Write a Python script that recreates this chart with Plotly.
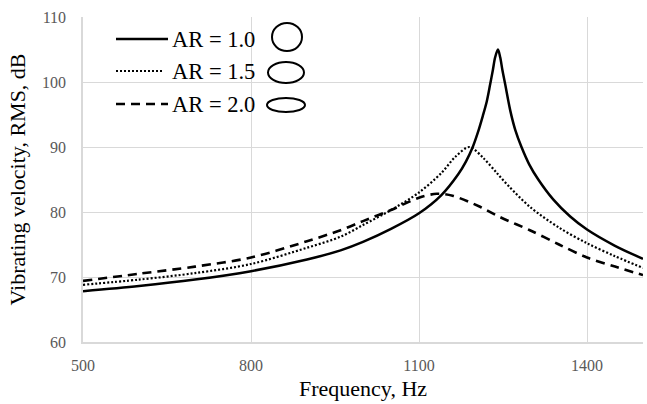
import plotly.graph_objects as go

# ---- data ----
freq_ar10 = [500, 600, 700, 800, 900, 960, 1000, 1050, 1100, 1140, 1170, 1184,
             1196, 1205, 1214, 1221, 1227, 1232, 1236, 1241, 1245, 1249, 1254,
             1263, 1272, 1283, 1297, 1313, 1340, 1370, 1400, 1450, 1500]
vel_ar10 = [67.8, 68.6, 69.6, 70.9, 72.7, 74.1, 75.4, 77.4, 79.8, 82.6, 85.8, 87.8,
            90.0, 92.2, 94.8, 97.0, 99.6, 101.9, 103.8, 105.0, 103.8, 101.8, 99.6,
            95.6, 92.6, 90.0, 87.3, 85.0, 81.9, 79.3, 77.3, 74.8, 72.8]

freq_ar15 = [500, 600, 700, 800, 900, 960, 1000, 1050, 1100, 1140, 1165, 1190,
             1215, 1239, 1260, 1298, 1350, 1400, 1450, 1500]
vel_ar15 = [68.8, 69.6, 70.6, 72.0, 74.5, 76.2, 78.0, 80.3, 83.0, 86.0, 88.5, 90.0,
            88.3, 86.0, 84.0, 80.8, 77.6, 75.2, 73.2, 71.4]

freq_ar20 = [500, 600, 700, 800, 900, 960, 1000, 1050, 1100, 1132, 1160, 1209,
             1245, 1298, 1350, 1400, 1450, 1500]
vel_ar20 = [69.4, 70.5, 71.6, 73.0, 75.5, 77.2, 78.6, 80.3, 82.2, 82.8, 82.5, 80.8,
            79.2, 77.2, 75.0, 73.0, 71.6, 70.3]

series_names = ["AR = 1.0", "AR = 1.5", "AR = 2.0"]
x_ticks = [500, 800, 1100, 1400]
y_ticks = [60, 70, 80, 90, 100, 110]

# ---- layout geometry ----
W, H = 647, 404
ML, MR, MT, MB = 83, 4, 17, 62
PW, PH = W - ML - MR, H - MT - MB


def px(x):
    return (x - ML) / PW


def py(y):
    return (H - MB - y) / PH


FONT = "Liberation Serif, Times New Roman, serif"
styles = [
    dict(color="black", width=2.5, dash="solid"),
    dict(color="black", width=2.2, dash="2px,2px"),
    dict(color="black", width=2.6, dash="9px,6px"),
]

fig = go.Figure()
for (fx, vy), name, st in zip([(freq_ar10, vel_ar10), (freq_ar15, vel_ar15),
                               (freq_ar20, vel_ar20)], series_names, styles):
    fig.add_trace(go.Scatter(x=fx, y=vy, mode="lines", name=name,
                             line=dict(shape="spline", smoothing=0.9, **st),
                             showlegend=False))

# manual legend (lines, labels, aspect-ratio ellipses)
rows_y = [39, 71, 104]
line_ends = [168, 163, 168]
ellipses = [(287, 37, 15, 14), (286, 72.5, 18, 10.5), (286, 105, 19, 7)]
shapes = []
annotations = []
for ry, xe, st, name, (cx, cy, rx, rr) in zip(rows_y, line_ends, styles,
                                                series_names, ellipses):
    shapes.append(dict(type="line", xref="paper", yref="paper",
                       x0=px(116), x1=px(xe), y0=py(ry), y1=py(ry),
                       line=dict(color="black", width=st["width"], dash=st["dash"])))
    annotations.append(dict(x=px(170), y=py(ry), xref="paper", yref="paper",
                            text=name, showarrow=False, xanchor="left",
                            yanchor="middle",
                            font=dict(family=FONT, size=22.5, color="black")))
    shapes.append(dict(type="circle", xref="paper", yref="paper",
                       x0=px(cx - rx), x1=px(cx + rx), y0=py(cy + rr), y1=py(cy - rr),
                       line=dict(color="black", width=2)))

fig.update_layout(
    width=W, height=H,
    margin=dict(l=ML, r=MR, t=MT, b=MB),
    paper_bgcolor="white", plot_bgcolor="white",
    shapes=shapes, annotations=annotations,
    font=dict(family=FONT, color="black"),
)
fig.update_xaxes(
    range=[500, 1500], tickvals=x_ticks, ticktext=[str(v) for v in x_ticks],
    showgrid=True, gridcolor="#d9d9d9", gridwidth=1,
    showline=True, linecolor="#d9d9d9", linewidth=1.5, zeroline=False,
    ticks="", tickfont=dict(family=FONT, size=16, color="#595959"),
    ticklabelstandoff=8,
    title=dict(text="Frequency, Hz", font=dict(family=FONT, size=22, color="black"),
               standoff=8),
)
fig.update_yaxes(
    range=[60, 110], tickvals=y_ticks, ticktext=[str(v) for v in y_ticks],
    showgrid=True, gridcolor="#d9d9d9", gridwidth=1,
    showline=True, linecolor="#d9d9d9", linewidth=1.5, zeroline=False,
    ticks="", tickfont=dict(family=FONT, size=16, color="#595959"),
    ticklabelstandoff=12,
    title=dict(text="Vibrating velocity, RMS, dB",
               font=dict(family=FONT, size=22, color="black"), standoff=10),
)

fig.write_html("out.html",
               config={"displayModeBar": False},
               post_script="document.body.style.margin='0';"
                           "document.body.style.overflow='hidden';")
